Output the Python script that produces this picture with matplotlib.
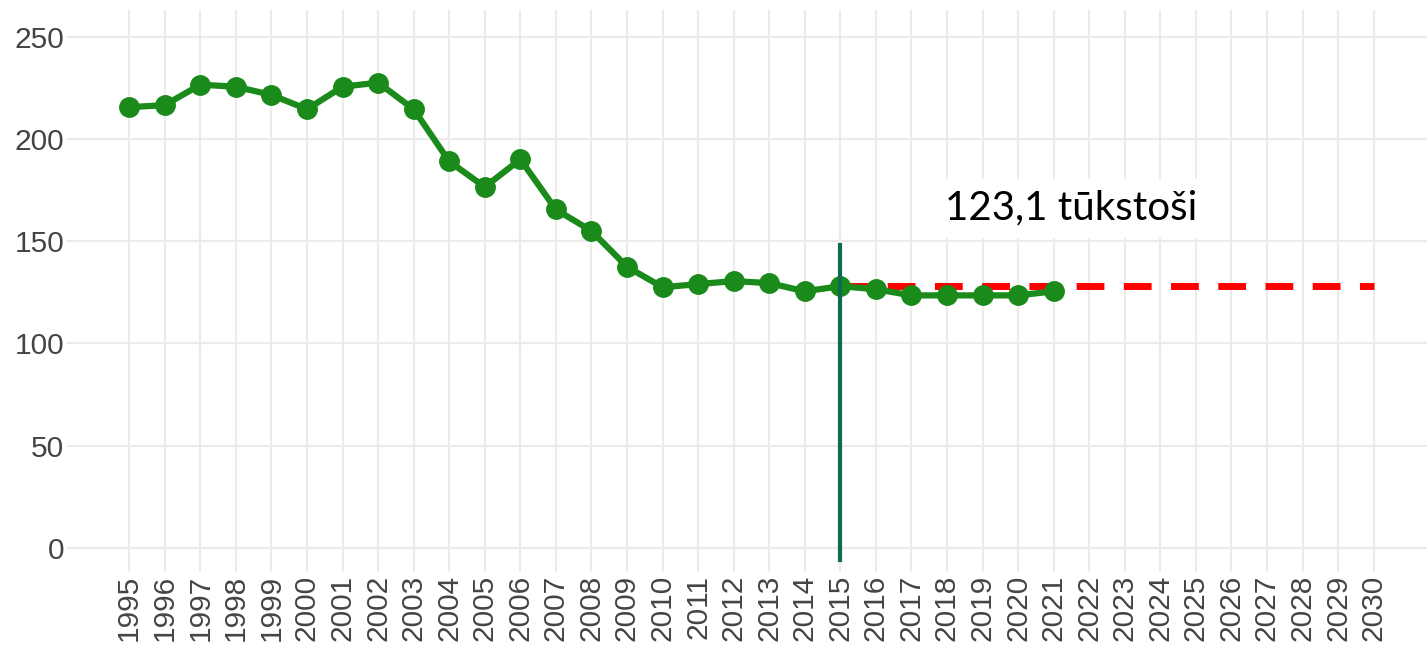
import numpy as np
import matplotlib.pyplot as plt

years = list(range(1995, 2022))
values = [215.5, 216.5, 226.5, 225.5, 221.5, 214.5, 225.5, 227.5, 214.5, 189, 176.5, 190, 165.5, 155, 137.5,
          127.5, 129, 130.5, 129.5, 125.5, 128, 126.5, 123.5, 123.5, 123.5, 123.5, 125.5]
all_years = list(range(1995, 2031))
target_years = [2015, 2030]
target_value = 128
marker_year = 2015
label = '123,1 tūkstoši'

fig = plt.figure(figsize=(14.27, 6.52), dpi=100)
ax = fig.add_axes([67 / 1427, 80 / 652, 1360 / 1427, 562 / 652])

ax.set_xlim(1993.25, 2031.5)
ax.set_ylim(-11.7, 263)
ax.set_xticks(all_years)
ax.set_xticklabels([str(y) for y in all_years], rotation=90, fontsize=21.5, color='#444444',
                   family='Liberation Sans')
ax.set_yticks([0, 50, 100, 150, 200, 250])
ax.set_yticklabels(['0', '50', '100', '150', '200', '250'], fontsize=21.5, color='#444444',
                   family='Liberation Sans')
ax.grid(True, color='#ebebeb', linewidth=1.5)
ax.set_axisbelow(True)
for s in ax.spines.values():
    s.set_visible(False)
ax.tick_params(length=0, pad=2)

ax.plot(target_years, [target_value, target_value], color='#ff0000', linewidth=5, dashes=(4, 2.8), zorder=2)
ax.plot(years, values, color='#1a8a1a', linewidth=4.5, marker='o', markersize=14, zorder=3)
ax.plot([marker_year, marker_year], [-6, 148], color='#0e6b4f', linewidth=3, zorder=4)
ax.text(2017.95, 166.0, label, fontsize=29, family='Lato', color='black', va='center', ha='left',
        bbox=dict(facecolor='white', edgecolor='none', pad=8), zorder=5)

fig.savefig('out.png', dpi=100)
